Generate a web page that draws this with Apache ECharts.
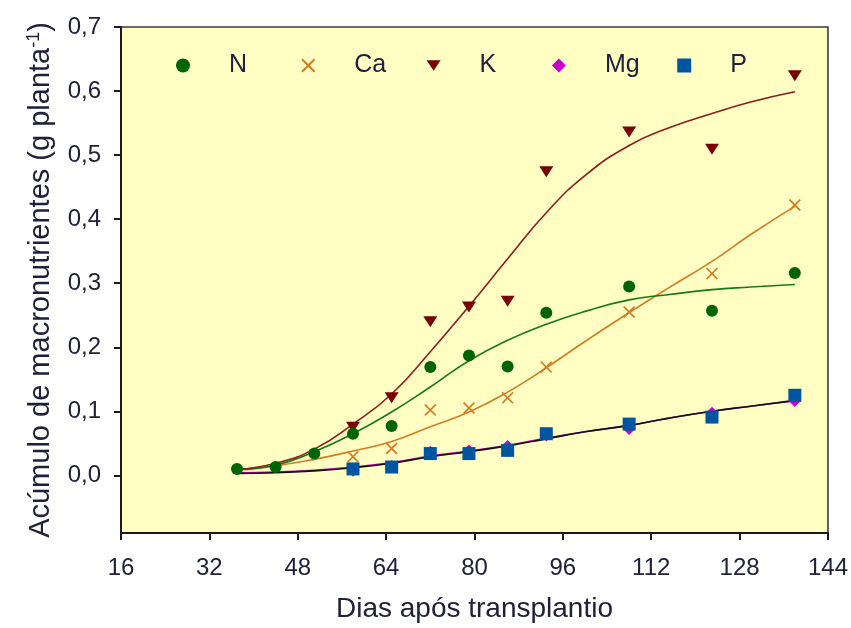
<!DOCTYPE html>
<html>
<head>
<meta charset="utf-8">
<script src="https://cdn.jsdelivr.net/npm/echarts@6/dist/echarts.min.js"></script>
<style>
  html, body { margin: 0; padding: 0; background: #ffffff; }
  #chart { width: 851px; height: 628px; }
</style>
</head>
<body>
<div id="chart"></div>
<script>
// Sampling days (days after transplanting)
const daysAll  = [37, 44, 51, 58, 65, 72, 79, 86, 93, 108, 123, 138];
const daysLate = [58, 65, 72, 79, 86, 93, 108, 123, 138];

// Measured accumulation (g planta-1)
const valN  = [0.010, 0.013, 0.034, 0.065, 0.077, 0.169, 0.187, 0.170, 0.254, 0.295, 0.257, 0.316];
const valCa = [0.029, 0.042, 0.102, 0.105, 0.121, 0.169, 0.255, 0.315, 0.422];
const valK  = [0.075, 0.121, 0.240, 0.263, 0.272, 0.474, 0.536, 0.509, 0.624];
const valMg = [0.008, 0.014, 0.036, 0.038, 0.045, 0.063, 0.073, 0.097, 0.117];
const valP  = [0.010, 0.013, 0.034, 0.034, 0.039, 0.065, 0.080, 0.091, 0.125];

// Fitted curves, read along the day axis
const fitDays = [37, 44, 51, 58, 65, 72, 79, 86, 93, 100, 108, 115, 123, 130, 138];
const fitN  = [0.009, 0.016, 0.037, 0.065, 0.099, 0.138, 0.179, 0.211, 0.236, 0.256, 0.274, 0.282, 0.290, 0.294, 0.298];
const fitCa = [0.009, 0.015, 0.025, 0.038, 0.053, 0.076, 0.099, 0.130, 0.168, 0.209, 0.254, 0.292, 0.334, 0.376, 0.420];
const fitK  = [0.009, 0.019, 0.041, 0.080, 0.127, 0.193, 0.264, 0.338, 0.410, 0.468, 0.515, 0.542, 0.565, 0.583, 0.599];
const fitMg = [0.004, 0.005, 0.008, 0.013, 0.020, 0.030, 0.038, 0.047, 0.058, 0.068, 0.078, 0.089, 0.100, 0.108, 0.116];
const fitP  = [0.003, 0.004, 0.007, 0.012, 0.019, 0.029, 0.037, 0.046, 0.057, 0.068, 0.078, 0.089, 0.100, 0.108, 0.117];

const names = ['N', 'Ca', 'K', 'Mg', 'P'];
const yTicks = [0, 0.1, 0.2, 0.3, 0.4, 0.5, 0.6, 0.7];

const pair = (xs, ys) => ys.map((v, i) => [xs[i], v]);

const textColor = '#20203a';
const fontFam = 'Arial, "Liberation Sans", sans-serif';

const symX = 'path://M0,1L1,0L5,4L9,0L10,1L6,5L10,9L9,10L5,6L1,10L0,9L4,5Z';
const symTri = 'path://M0,0L12,0L6,9Z';

function fitLine(name, data, color, z) {
  return {
    name: name + '-fit', type: 'line', data: data, smooth: true,
    showSymbol: false, symbol: 'none', silent: true, z: z,
    lineStyle: { color: color, width: 1.6 }
  };
}
function pts(name, data, symbol, size, color, z) {
  return {
    name: name, type: 'scatter', data: data, symbol: symbol, symbolSize: size,
    itemStyle: { color: color, opacity: 1 }, z: z
  };
}

// One legend entry per element, evenly spaced across the top of the plot
const legends = names.map((n, i) => ({
  data: [n],
  left: 171 + i * 125.3, top: 48,
  itemWidth: 14, itemHeight: 14,
  textStyle: { fontSize: 25, color: textColor, fontFamily: fontFam, padding: [0, 0, 0, 34] },
  selectedMode: false
}));

const chart = echarts.init(document.getElementById('chart'), null, { renderer: 'canvas' });
chart.setOption({
  animation: false,
  backgroundColor: '#ffffff',
  grid: {
    left: 121, right: 23, top: 27, bottom: 95,
    show: true, backgroundColor: '#ffffc4', borderColor: '#3a3a3a', borderWidth: 1.6
  },
  legend: legends,
  xAxis: {
    type: 'value', min: 16, max: 144, interval: 16,
    name: 'Dias após transplantio', nameLocation: 'middle', nameGap: 62,
    nameTextStyle: { fontSize: 28, color: textColor, fontFamily: fontFam },
    axisLine: { show: true, onZero: false, lineStyle: { color: '#1a1a1a', width: 2 } },
    axisTick: { show: true, inside: false, length: 7, lineStyle: { color: '#1a1a1a', width: 2 } },
    axisLabel: { fontSize: 24, color: textColor, fontFamily: fontFam, margin: 23 },
    splitLine: { show: false }
  },
  yAxis: {
    type: 'value', min: -0.09, max: 0.7,
    name: 'Acúmulo de macronutrientes (g planta{sup|-1})', nameLocation: 'middle', nameGap: 62,
    nameTextStyle: {
      fontSize: 29, color: textColor, fontFamily: fontFam, lineHeight: 32,
      rich: { sup: { fontSize: 18, color: textColor, fontFamily: fontFam, verticalAlign: 'top', lineHeight: 32 } }
    },
    axisLine: { show: true, onZero: false, lineStyle: { color: '#1a1a1a', width: 2 } },
    axisTick: { show: true, inside: false, length: 7, customValues: yTicks, lineStyle: { color: '#1a1a1a', width: 2 } },
    axisLabel: {
      fontSize: 24, color: textColor, fontFamily: fontFam, margin: 20, customValues: yTicks,
      formatter: v => v.toFixed(1).replace('.', ',')
    },
    splitLine: { show: false }
  },
  series: [
    fitLine('Mg', pair(fitDays, fitMg), '#cc00cc', 2),
    fitLine('P',  pair(fitDays, fitP),  '#111111', 3),
    fitLine('Ca', pair(fitDays, fitCa), '#d47b22', 3),
    fitLine('N',  pair(fitDays, fitN),  '#177a17', 3),
    fitLine('K',  pair(fitDays, fitK),  '#8e1c1c', 3),
    pts('Ca', pair(daysLate, valCa), symX, 12, '#d47b22', 5),
    pts('Mg', pair(daysLate, valMg), 'diamond', 13, '#cc00cc', 5),
    pts('P',  pair(daysLate, valP),  'rect', 13, '#0055a0', 6),
    pts('K',  pair(daysLate, valK),  symTri, [14, 11], '#7a0000', 7),
    pts('N',  pair(daysAll, valN),   'circle', 12, '#006400', 8)
  ]
});
</script>
</body>
</html>
